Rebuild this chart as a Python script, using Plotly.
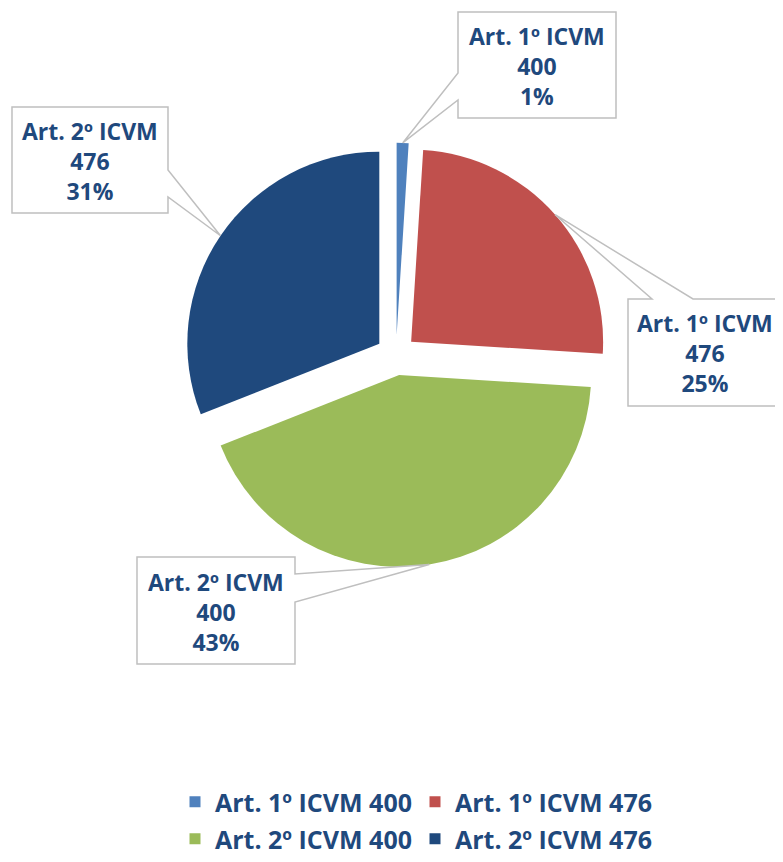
import math
import plotly.graph_objects as go

# ---------------- data ----------------
articles = ["Art. 1º ICVM", "Art. 1º ICVM", "Art. 2º ICVM", "Art. 2º ICVM"]
icvm = ["400", "476", "400", "476"]
shares = [1, 25, 43, 31]
colors = ["#4F81BD", "#C0504D", "#9BBB59", "#1F497D"]
labels = [f"{a} {n}" for a, n in zip(articles, icvm)]

# ---------------- layout constants ----------------
OFF = 8                      # page body margin
W, H = 783 - OFF, 862 - OFF  # figure size
PIE_CX, PIE_CY = 396, 355    # px in window coordinates
PIE_R = 192
PULL = 0.105
TEXT_COLOR = "#1F497D"
FONT = "Open Sans"
box = 2 * PIE_R * (1 + PULL)

def px_to_paper(x, y):
    return (x - OFF) / W, 1 - (y - OFF) / H

dx0, dy1 = px_to_paper(PIE_CX - box / 2, PIE_CY - box / 2)
dx1, dy0 = px_to_paper(PIE_CX + box / 2, PIE_CY + box / 2)

fig = go.Figure()
fig.add_trace(go.Pie(
    labels=labels, values=shares, sort=False, direction="clockwise", rotation=0,
    pull=[PULL] * len(shares), marker=dict(colors=colors, line=dict(width=0)),
    textinfo="none", hoverinfo="label+value+percent", showlegend=False,
    domain=dict(x=[dx0, dx1], y=[dy0, dy1]),
))

# legend entries (two rows -> two legends)
for i, (lab, col) in enumerate(zip(labels, colors)):
    fig.add_trace(go.Scatter(
        x=[None], y=[None], mode="markers", name=lab,
        marker=dict(symbol="square", size=11, color=col),
        legend="legend" if i < 2 else "legend2", hoverinfo="skip",
    ))

# tip points computed from the pie geometry (mid-angle of each slice)
total = sum(shares)
cum = 0
tips = []
for v in shares:
    a0 = cum / total * 360
    cum += v
    a1 = cum / total * 360
    mid = math.radians((a0 + a1) / 2)
    ux, uy = math.sin(mid), -math.cos(mid)
    cx = PIE_CX + PULL * PIE_R * ux
    cy = PIE_CY + PULL * PIE_R * uy
    tips.append((cx + PIE_R * ux, cy + PIE_R * uy))

# callout boxes: (x0, y0, x1, y1), edge, base points in traversal order
callouts = [
    ((458, 12, 616, 118), "left", [(458, 100), (458, 73)]),
    ((628, 299, 782, 406), "top", [(652, 299), (693, 299)]),
    ((137, 557, 295, 664), "right", [(295, 574), (295, 602)]),
    ((12, 107, 168, 213), "right", [(168, 170), (168, 197)]),
]

shapes = []
annotations = []
for i, ((x0, y0, x1, y1), edge, bases) in enumerate(callouts):
    tip = tips[i]
    pts = []
    corners = {"top": [(x0, y0)], "right": [(x1, y0)], "bottom": [(x1, y1)], "left": [(x0, y1)]}
    for e in ["top", "right", "bottom", "left"]:
        pts.extend(corners[e])
        if e == edge:
            pts.extend([bases[0], tip, bases[1]])
    path = ""
    for j, (px, py) in enumerate(pts):
        X, Y = px_to_paper(px, py)
        path += ("M" if j == 0 else "L") + f"{X:.5f},{Y:.5f} "
    path += "Z"
    shapes.append(dict(type="path", path=path, xref="paper", yref="paper",
                       fillcolor="white", line=dict(color="#BFBFBF", width=1.5), layer="above"))
    pct = round(shares[i] / total * 100)
    tx, ty = px_to_paper((x0 + x1) / 2, (y0 + y1) / 2 + 1)
    annotations.append(dict(
        x=tx, y=ty, xref="paper", yref="paper", showarrow=False,
        text=f"{articles[i]}<br>{icvm[i]}<br>{pct}%",
        font=dict(family=FONT, size=23, color=TEXT_COLOR, weight="bold"),
        align="center", xanchor="center", yanchor="middle",
    ))

legend_common = dict(
    orientation="h", xanchor="left",
    font=dict(family=FONT, size=25, color=TEXT_COLOR, weight="bold"),
    entrywidth=195, entrywidthmode="pixels", bgcolor="rgba(0,0,0,0)", borderwidth=0,
)
lx, ly1 = px_to_paper(195 - 20, 802)
fig.update_layout(
    width=W, height=H,
    margin=dict(l=0, r=0, t=0, b=0, autoexpand=False),
    paper_bgcolor="white", plot_bgcolor="white",
    xaxis=dict(visible=False), yaxis=dict(visible=False),
    shapes=shapes, annotations=annotations,
    legend=dict(x=lx, y=ly1, yanchor="middle", **legend_common),
    legend2=dict(x=lx, y=0, yanchor="bottom", **legend_common),
    showlegend=True,
)

fig.write_html("out.html")
